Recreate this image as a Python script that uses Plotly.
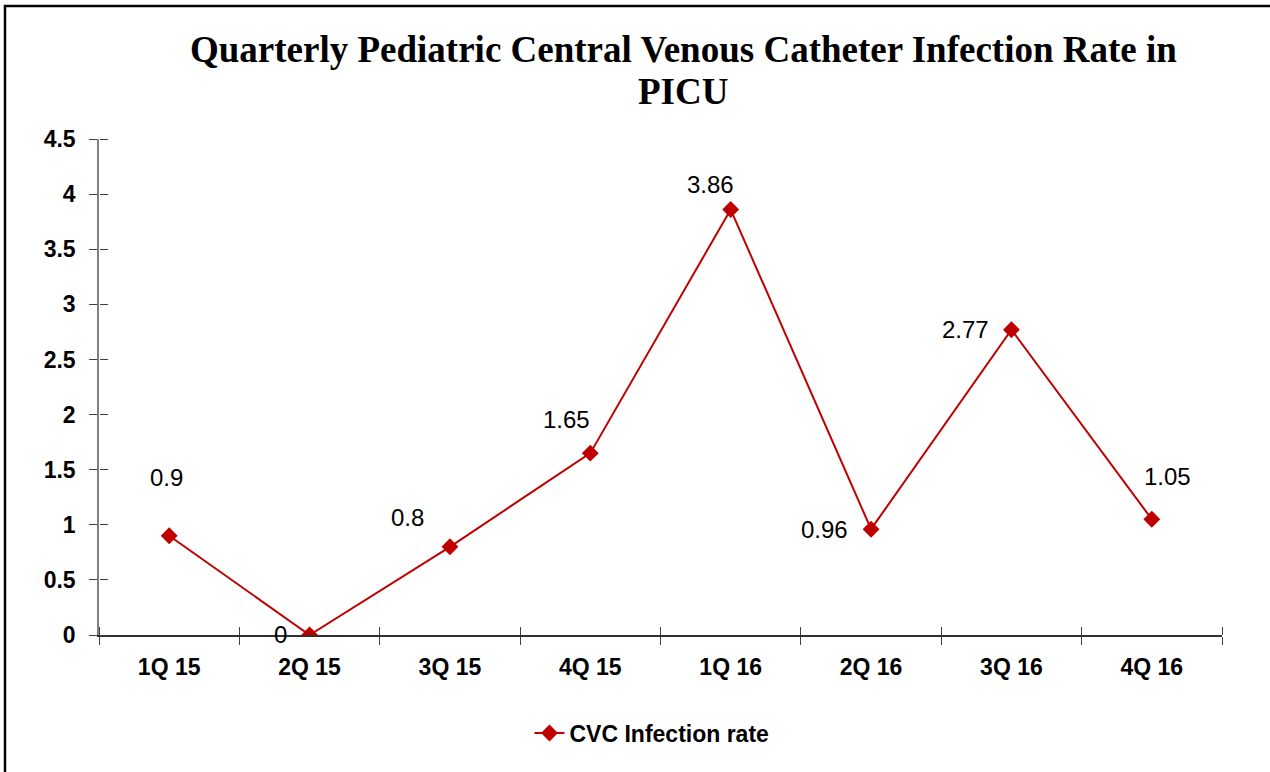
import plotly.graph_objects as go

quarters = ["1Q 15", "2Q 15", "3Q 15", "4Q 15", "1Q 16", "2Q 16", "3Q 16", "4Q 16"]
cvc_rate = [0.9, 0, 0.8, 1.65, 3.86, 0.96, 2.77, 1.05]
y_ticks = [0, 0.5, 1, 1.5, 2, 2.5, 3, 3.5, 4, 4.5]
y_tick_labels = ["0", "0.5", "1", "1.5", "2", "2.5", "3", "3.5", "4", "4.5"]
title_lines = ["Quarterly Pediatric Central Venous Catheter Infection Rate in", "PICU"]

# label offsets (px) for data labels
label_shift_x = [-3, -29, -42, -24, -20, -47, -46, 16]
label_shift_y = [58, 1, 29, 34, 25, 0, 0, 43]

W, H = 1270, 772
ML, MR, MT, MB = 99, 48, 139, 137
RED = "#C00000"
SANS = "Liberation Sans, Arial"

fig = go.Figure()
fig.add_trace(go.Scatter(
    x=quarters, y=cvc_rate, mode="lines+markers", name="CVC Infection rate",
    line=dict(color=RED, width=2),
    marker=dict(symbol="diamond", size=13, color=RED),
))
# invisible copy on overlay axes to draw the inner half of the crossing tick marks
fig.add_trace(go.Scatter(
    x=quarters, y=cvc_rate, mode="lines", xaxis="x2", yaxis="y2",
    line=dict(width=0), opacity=0, showlegend=False, hoverinfo="skip",
))

pw = W - ML - MR
ph = H - MT - MB
def px_x(p):
    return (p - ML) / pw
def px_y(p):
    return (H - MB - p) / ph

annotations = []
for q, v, dx, dy in zip(quarters, cvc_rate, label_shift_x, label_shift_y):
    annotations.append(dict(
        x=q, y=v, xref="x", yref="y", text=f"{v:g}", showarrow=False,
        xshift=dx, yshift=dy, font=dict(family=SANS, size=24, color="black"),
    ))
for line_text, cy in zip(title_lines, [49, 91]):
    annotations.append(dict(
        x=px_x(683), y=px_y(cy), xref="paper", yref="paper", xanchor="center", yanchor="middle",
        text=line_text, showarrow=False,
        font=dict(family="Liberation Serif, Times New Roman, serif", size=37, color="black", weight="bold"),
    ))

tickfont = dict(family=SANS, size=23, color="black", weight="bold")
fig.update_layout(
    width=W, height=H,
    margin=dict(l=ML, r=MR, t=MT, b=MB),
    paper_bgcolor="white", plot_bgcolor="white",
    xaxis=dict(
        type="category", range=[-0.5, 7.5], tickson="boundaries",
        ticks="outside", ticklen=8, tickcolor="#404040", tickwidth=1,
        showline=True, linecolor="#303030", linewidth=1.5,
        showgrid=False, zeroline=False, tickfont=tickfont, ticklabelstandoff=11,
    ),
    yaxis=dict(
        range=[0, 4.5], tickvals=y_ticks, ticktext=y_tick_labels,
        ticks="outside", ticklen=8, tickcolor="#404040", tickwidth=1,
        showline=True, linecolor="#808080", linewidth=1.5,
        showgrid=False, zeroline=False, tickfont=tickfont, ticklabelstandoff=9,
    ),
    xaxis2=dict(
        type="category", range=[-0.5, 7.5], tickson="boundaries", overlaying="x",
        anchor="free", position=0, side="top",
        ticks="outside", ticklen=8, tickcolor="#404040", tickwidth=1,
        showticklabels=False, showgrid=False, zeroline=False, showline=False,
    ),
    yaxis2=dict(
        range=[0, 4.5], tickvals=y_ticks, overlaying="y",
        anchor="free", position=0, side="right",
        ticks="outside", ticklen=8, tickcolor="#404040", tickwidth=1,
        showticklabels=False, showgrid=False, zeroline=False, showline=False,
    ),
    showlegend=True,
    legend=dict(
        orientation="h", x=px_x(652), xanchor="center",
        y=px_y(733), yanchor="middle",
        font=dict(family=SANS, size=23, color="black", weight="bold"),
        bgcolor="rgba(0,0,0,0)",
    ),
    annotations=annotations,
    shapes=[dict(
        type="rect", xref="paper", yref="paper",
        x0=px_x(5), x1=px_x(W + 10), y0=px_y(H + 10), y1=px_y(6),
        line=dict(color="black", width=2.5), fillcolor="rgba(0,0,0,0)", layer="above",
    )],
)

fig.write_html(
    "out.html",
    config={"displayModeBar": False},
    post_script="document.body.style.margin='0px';document.body.style.overflow='hidden';",
)
